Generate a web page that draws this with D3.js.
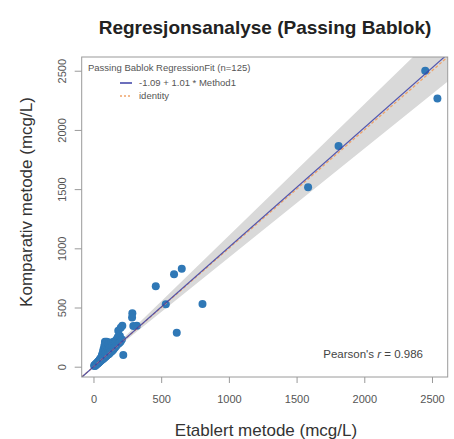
<!DOCTYPE html>
<html><head><meta charset="utf-8">
<script src="https://cdn.jsdelivr.net/npm/d3@7"></script>
<style>body{margin:0;background:#fff}svg{display:block;font-family:"Liberation Sans",Arial,sans-serif}</style>
</head><body><svg id="c" width="454" height="439"></svg>
<script>
// ---- data ----
const xTicks = [0, 500, 1000, 1500, 2000, 2500];
const yTicks = [0, 500, 1000, 1500, 2000, 2500];
const etablert = [2450,2540,1810,1585,460,595,652,534,805,615,287,285,320,201,213,220,85,171,183,294,
5,8,10,12,14,15,18,20,22,24,25,27,28,30,32,33,35,36,38,40,41,42,44,45,46,48,50,51,52,54,55,56,58,60,61,62,64,65,66,68,70,71,72,74,75,76,78,80,81,82,84,85,86,88,90,91,92,94,95,96,98,100,102,104,105,107,108,110,112,114,115,117,118,120,122,124,126,128,130,132,135,138,140,142,145,148,150,152,155,158,160,165,168,170,175,180,185,190,195,200,210];
const komparativ = [2500,2265,1865,1515,680,780,828,527,530,287,451,415,346,329,346,99,211,211,304,344,
8,12,6,15,18,10,22,16,28,20,30,24,35,26,38,30,42,33,45,36,50,40,55,42,60,46,58,48,70,52,65,54,80,57,68,95,60,75,110,64,82,130,68,90,150,72,100,175,78,115,200,82,125,140,85,160,105,180,92,120,210,96,135,150,100,170,115,190,106,130,205,112,145,160,118,180,125,140,200,128,155,170,135,190,145,210,150,175,160,195,165,210,175,230,185,250,195,200,260,210,230];
const fit = {intercept: -1.09, slope: 1.01};
const bandUpper = {intercept: -3, slope: 1.11};
const bandLower = {intercept: 2, slope: 0.92};
const domainX = [-87, 2616], domainY = [-87, 2616];

// ---- layout ----
const L = 81.7, R = 447.7, T = 57, B = 377;
const svg = d3.select("#c");
const x = d3.scaleLinear().domain(domainX).range([L, R]);
const y = d3.scaleLinear().domain(domainY).range([B, T]);

svg.append("defs").append("clipPath").attr("id","clip")
  .append("rect").attr("x",L).attr("y",T).attr("width",R-L).attr("height",B-T);
const g = svg.append("g").attr("clip-path","url(#clip)");

// CI band
const xs = [domainX[0], domainX[1]];
const poly = xs.map(v=>[x(v), y(bandUpper.intercept+bandUpper.slope*v)])
  .concat(xs.slice().reverse().map(v=>[x(v), y(bandLower.intercept+bandLower.slope*v)]));
g.append("path").attr("d", d3.line()(poly)+"Z").attr("fill","#d9d9d9");

// points
g.selectAll("circle").data(etablert.map((v,i)=>[v,komparativ[i]])).join("circle")
  .attr("cx",d=>x(d[0])).attr("cy",d=>y(d[1])).attr("r",4).attr("fill","#2f78b7");

// identity (orange dashed) and fit (blue)
g.append("line").attr("x1",x(domainX[0])).attr("y1",y(domainX[0])).attr("x2",x(domainX[1])).attr("y2",y(domainX[1]))
  .attr("stroke","#f0a46a").attr("stroke-width",1.3).attr("stroke-dasharray","3,2");
g.append("line").attr("x1",x(domainX[0])).attr("y1",y(fit.intercept+fit.slope*domainX[0]))
  .attr("x2",x(domainX[1])).attr("y2",y(fit.intercept+fit.slope*domainX[1]))
  .attr("stroke","#3b3fa6").attr("stroke-width",1.2).attr("opacity",0.85);

// box
svg.append("rect").attr("x",L).attr("y",T).attr("width",R-L).attr("height",B-T)
  .attr("fill","none").attr("stroke","#9a9a9a").attr("stroke-width",1);

// axes
const fmt = d3.format("d");
const xa = svg.append("g").attr("transform",`translate(0,${B})`)
  .call(d3.axisBottom(x).tickValues(xTicks).tickFormat(fmt).tickSize(6).tickPadding(10));
const ya = svg.append("g").attr("transform",`translate(${L},0)`)
  .call(d3.axisLeft(y).tickValues(yTicks).tickFormat(fmt).tickSize(7).tickPadding(8));
[xa,ya].forEach(a=>{
  a.select(".domain").remove();
  a.selectAll(".tick line").attr("stroke","#9a9a9a");
  a.selectAll("text").attr("fill","#555").style("font-size","11px").style("font-family","Liberation Sans, Arial, sans-serif");
});
ya.selectAll(".tick text").attr("transform","rotate(-90)").attr("x",0).attr("y",-16).attr("dy",0).attr("text-anchor","middle");
xa.selectAll(".tick text").attr("dy","0.9em");

// title & labels
svg.append("text").attr("x",265).attr("y",34).attr("text-anchor","middle")
  .style("font-size","19px").style("font-weight","bold").attr("fill","#222").text("Regresjonsanalyse (Passing Bablok)");
svg.append("text").attr("x",266).attr("y",436).attr("text-anchor","middle")
  .style("font-size","17px").attr("fill","#333").text("Etablert metode (mcg/L)");
svg.append("text").attr("transform","translate(32,202) rotate(-90)").attr("text-anchor","middle")
  .style("font-size","17px").attr("fill","#333").text("Komparativ metode (mcg/L)");

// legend
svg.append("text").attr("x",88).attr("y",71).style("font-size","9.5px").attr("fill","#555").text("Passing Bablok RegressionFit (n=125)");
svg.append("line").attr("x1",120).attr("x2",132).attr("y1",83).attr("y2",83).attr("stroke","#3b3fa6").attr("stroke-width",1.5);
svg.append("text").attr("x",139).attr("y",86).style("font-size","9.5px").attr("fill","#555").text("-1.09 + 1.01 * Method1");
svg.append("line").attr("x1",120).attr("x2",132).attr("y1",96).attr("y2",96).attr("stroke","#f0a46a").attr("stroke-width",1.5).attr("stroke-dasharray","2,2");
svg.append("text").attr("x",139).attr("y",99).style("font-size","9.5px").attr("fill","#555").text("identity");

// pearson
const pt = svg.append("text").attr("x",423).attr("y",358).attr("text-anchor","end").style("font-size","11.5px").attr("fill","#444");
pt.append("tspan").text("Pearson's ");
pt.append("tspan").style("font-style","italic").text("r");
pt.append("tspan").text(" = 0.986");
</script></body></html>
